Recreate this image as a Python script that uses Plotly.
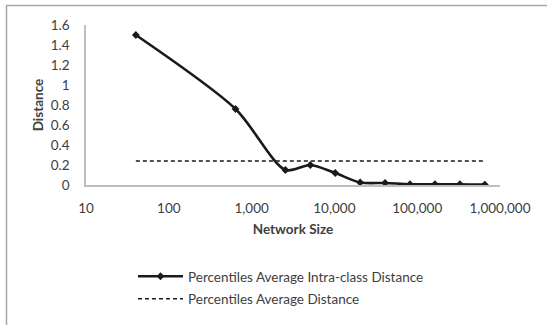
import plotly.graph_objects as go

network_size = [40, 640, 2560, 5120, 10240, 20480, 40960, 81920, 163840, 327680, 655360]
intra_class = [1.5, 0.76, 0.15, 0.20, 0.12, 0.025, 0.02, 0.008, 0.008, 0.008, 0.004]
avg_distance = [0.24] * len(network_size)

y_ticks = [0, 0.2, 0.4, 0.6, 0.8, 1, 1.2, 1.4, 1.6]
y_labels = ["0", "0.2", "0.4", "0.6", "0.8", "1", "1.2", "1.4", "1.6"]
x_ticks = [10, 100, 1000, 10000, 100000, 1000000]
x_labels = ["10", "100", "1,000", "10,000", "100,000", "1,000,000"]

W, H = 547, 325
L, R, T, B = 86, 47, 25, 139
pw, ph = W - L - R, H - T - B

def px(x):
    return (x - L) / pw

def py(y):
    return (H - B - y) / ph

FONT = "Lato, 'Open Sans', sans-serif"
FS = 13.5

fig = go.Figure()
fig.add_trace(go.Scatter(
    x=network_size, y=intra_class, mode="lines+markers",
    name="Percentiles Average Intra-class Distance", legendgroup="a",
    line=dict(color="#1a1a1a", width=2.6, shape="spline", smoothing=0.8),
    marker=dict(symbol="diamond", size=6, color="#1a1a1a"),
))
fig.add_trace(go.Scatter(
    x=network_size, y=avg_distance, mode="lines",
    name="Percentiles Average Distance", legendgroup="b",
    line=dict(color="#1a1a1a", width=1.5, dash="4px,3px"),
))

fig.update_layout(
    width=W, height=H,
    margin=dict(l=L, r=R, t=T, b=B),
    paper_bgcolor="white", plot_bgcolor="white",
    font=dict(family=FONT, size=FS, color="#404040"),
    xaxis=dict(
        type="log", range=[1, 6],
        tickvals=x_ticks, ticktext=x_labels,
        showgrid=False, zeroline=False,
        showline=True, linecolor="#bfbfbf", linewidth=1.5,
        ticks="", tickfont=dict(size=FS, color="#404040"),
        ticklabelstandoff=10,
        title=dict(text="<b>Network Size</b>", font=dict(size=FS, color="#404040"), standoff=10),
    ),
    yaxis=dict(
        range=[0, 1.6],
        tickvals=y_ticks, ticktext=y_labels,
        showgrid=False, zeroline=False,
        showline=True, linecolor="#bfbfbf", linewidth=1.5,
        ticks="", tickfont=dict(size=FS, color="#404040"),
        ticklabelstandoff=12,
        title=dict(text="<b>Distance</b>", font=dict(size=FS, color="#404040"), standoff=4),
    ),
    legend=dict(
        x=px(133), y=py(261), xanchor="left", yanchor="top",
        font=dict(size=FS, color="#404040"),
        bgcolor="rgba(0,0,0,0)", traceorder="grouped", tracegroupgap=2, itemwidth=45,
    ),
    showlegend=True,
)

fig.add_shape(
    type="rect", xref="paper", yref="paper",
    x0=px(6.5), x1=px(600), y0=py(400), y1=py(5.5),
    line=dict(color="#a6a6a6", width=1.5), fillcolor="rgba(0,0,0,0)", layer="below",
)

fig.write_html("out.html")
